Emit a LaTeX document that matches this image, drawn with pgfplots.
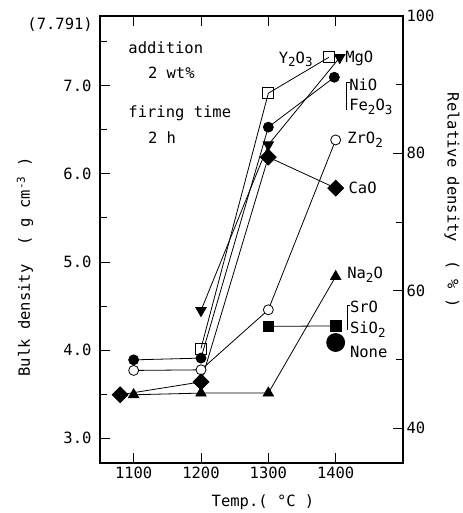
\documentclass[border=0pt]{standalone}
\usepackage{fontspec}
\setmainfont{DejaVu Sans Mono}
\usepackage{pgfplots}
\pgfplotsset{compat=1.18}
\newcommand\ff{\fontsize{15.5bp}{18bp}\selectfont}
\newcommand\sub[1]{\raisebox{-0.4ex}{\fontsize{12.5bp}{13bp}\selectfont #1}}

\begin{document}
\begin{tikzpicture}
\pgfplotsset{
  base/.style={
    scale only axis, width=303bp, height=447bp,
    xmin=1050, xmax=1500,
    tick align=inside,
    major tick length=10bp, minor tick length=7bp,
    axis line style={line width=1.3bp},
    every tick/.style={black, line width=1bp},
    tick label style={font=\ff},
    /pgf/number format/assume math mode=true,
    clip=false,
  },
  ser/.style={black, line width=0.8bp, mark options={solid}},
}
\begin{axis}[base,
  ymin=2.72, ymax=7.791,
  xtick={1100,1200,1300,1400}, xtick pos=both, xticklabel pos=lower,
  xticklabels={1100,1200,1300,1400},
  ytick={3,4,5,6,7}, yticklabels={3.0,4.0,5.0,6.0,7.0},
  minor ytick={3.5,4.5,5.5,6.5,7.5},
  ytick pos=left,
  yticklabel style={xshift=-5bp},
]
% Y2O3
\addplot[ser, mark=square, mark size=5.5bp, mark options={fill=white}] coordinates {(1200,4.02)(1300,6.915)(1390,7.323)};
% MgO
\addplot[ser, mark=triangle*, mark size=6bp, mark options={rotate=180}] coordinates {(1200,4.45)(1300,6.33)(1406,7.32)};
% NiO, Fe2O3
\addplot[ser, mark=*, mark size=5bp] coordinates {(1100,3.89)(1200,3.91)(1300,6.53)(1398,7.096)};
% ZrO2
\addplot[ser, mark=*, mark size=5bp, mark options={fill=white}] coordinates {(1100,3.77)(1200,3.777)(1300,4.458)(1400,6.385)};
% CaO
\addplot[ser, mark=square*, mark size=5.6bp, mark options={rotate=45}] coordinates {(1080,3.494)(1200,3.64)(1300,6.19)(1400,5.838)};
% Na2O
\addplot[ser, mark=triangle*, mark size=6bp] coordinates {(1100,3.494)(1200,3.513)(1300,3.513)(1400,4.835)};
% SrO, SiO2
\addplot[ser, mark=square*, mark size=5.3bp] coordinates {(1300,4.27)(1400,4.275)};
% None
\addplot[ser, only marks, mark=*, mark size=9bp] coordinates {(1400,4.087)};

\node[anchor=west, font=\ff, inner sep=0] at (axis cs:1092,7.428) {addition};
\node[anchor=west, font=\ff, inner sep=0] at (axis cs:1121,7.145) {2 wt\%};
\node[anchor=west, font=\ff, inner sep=0] at (axis cs:1092,6.691) {firing time};
\node[anchor=west, font=\ff, inner sep=0] at (axis cs:1121,6.408) {2 h};

\node[anchor=east, font=\ff, inner sep=0] at (axis cs:1366,7.30) {Y\sub{2}O\sub{3}};
\node[anchor=west, font=\ff, inner sep=0] at (axis cs:1414,7.31) {MgO};
\node[anchor=west, font=\ff, inner sep=0] at (axis cs:1420,7.01) {NiO};
\node[anchor=west, font=\ff, inner sep=0] at (axis cs:1420,6.76) {Fe\sub{2}O\sub{3}};
\draw[line width=0.7bp] (axis cs:1421,7.043) -- (axis cs:1416.3,7.043) -- (axis cs:1416.3,6.725);
\node[anchor=west, font=\ff, inner sep=0] at (axis cs:1417,6.385) {ZrO\sub{2}};
\node[anchor=west, font=\ff, inner sep=0] at (axis cs:1419,5.84) {CaO};
\node[anchor=west, font=\ff, inner sep=0] at (axis cs:1417,4.855) {Na\sub{2}O};
\node[anchor=west, font=\ff, inner sep=0] at (axis cs:1421,4.495) {SrO};
\node[anchor=west, font=\ff, inner sep=0] at (axis cs:1421,4.231) {SiO\sub{2}};
\draw[line width=0.7bp] (axis cs:1421.5,4.514) -- (axis cs:1416.8,4.514) -- (axis cs:1416.8,4.231);
\node[anchor=west, font=\ff, inner sep=0] at (axis cs:1421,3.985) {None};

\node[anchor=east, font=\ff, inner sep=0, xshift=-7bp, yshift=-9bp] at (rel axis cs:0,1) {(7.791)};
\node[font=\ff, rotate=90] at (rel axis cs:-0.2475,0.4385) {Bulk density \ ( g cm\textsuperscript{-3} )};
\node[font=\ff] at (rel axis cs:0.538,-0.087) {Temp.( °C )};
\end{axis}

\begin{axis}[base,
  ymin=34.91, ymax=100,
  axis x line=none, axis y line*=right,
  ytick={40,60,80,100}, minor ytick={50,70,90},
]
\node[font=\ff, rotate=-90] at (rel axis cs:1.1617,0.588) {Relative density \ ( \% )};
\end{axis}
\pgfresetboundingbox
\useasboundingbox (-100bp,-50bp) rectangle (363bp,463bp);
\end{tikzpicture}
\end{document}
